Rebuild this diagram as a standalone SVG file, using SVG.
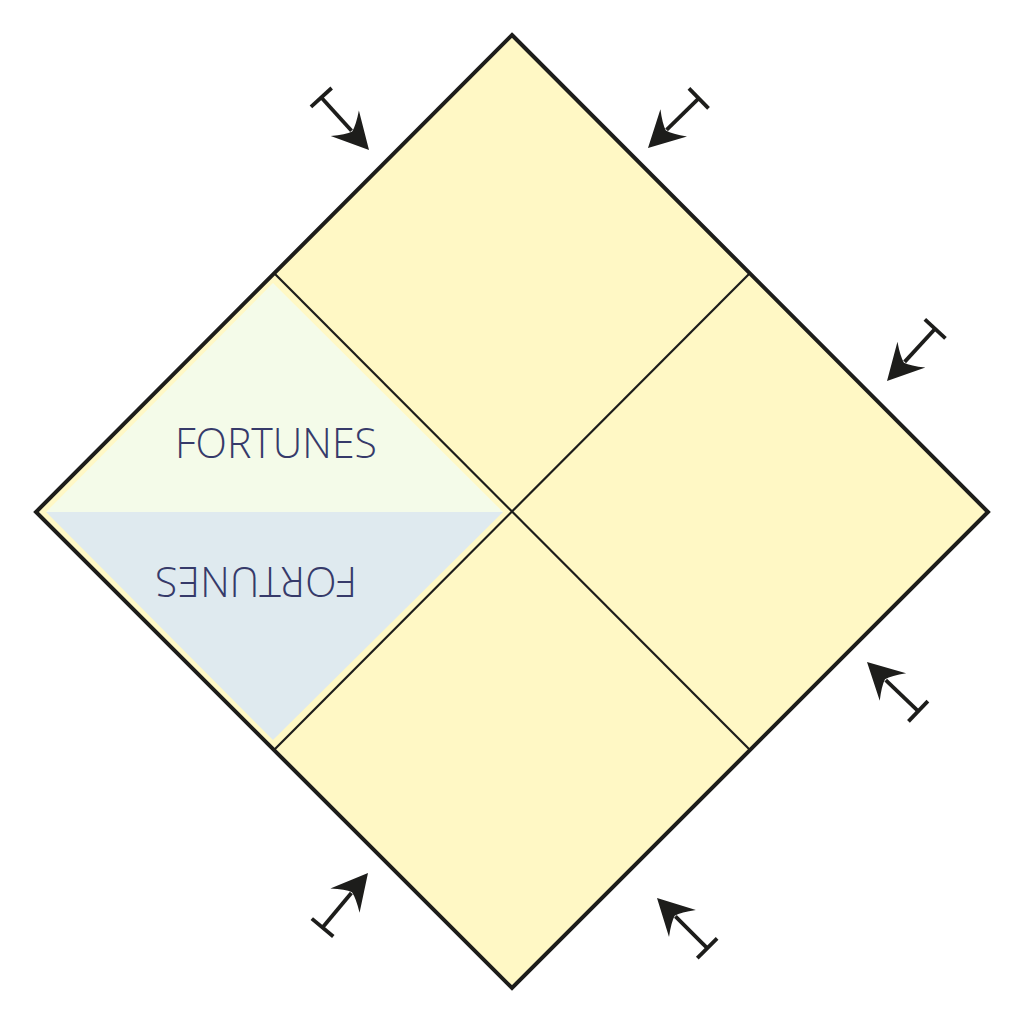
<svg xmlns="http://www.w3.org/2000/svg" xmlns:xlink="http://www.w3.org/1999/xlink" width="1024" height="1024" viewBox="0 0 1024 1024">
<style>
.edge{fill:none;stroke:#1d1d1b;stroke-width:4;stroke-linejoin:miter}
.div{fill:none;stroke:#1d1d1b;stroke-width:2.2}
.lbl{font-family:"Open Sans","Noto Sans","Liberation Sans",sans-serif;font-weight:300;font-size:42px;fill:#363a6a;text-anchor:middle}
.ash{stroke:#1d1d1b;stroke-width:3.8;fill:none}
.ahd{fill:#1d1d1b}
</style>
<defs>
<g id="arr">
<line class="ash" x1="-71" y1="0" x2="-26" y2="0"/>
<line class="ash" x1="-71" y1="-14" x2="-71" y2="14"/>
<path class="ahd" d="M0,0 L-36,-19 Q-27,-7 -25,0 Q-27,7 -36,19 Z"/>
</g>
</defs>
<rect width="1024" height="1024" fill="#ffffff"/>
<g id="board">
<polygon points="512,35 988,512 512,988 36,512" fill="#fff8c5"/>
</g>
<g id="fortunes">
<polygon points="273,283 503,512 46,512" fill="#f4fbe9"/>
<polygon points="46,512 503,512 273,740" fill="#dfeaef"/>
<text class="lbl" x="276" y="458" textLength="202" lengthAdjust="spacingAndGlyphs">FORTUNES</text>
<text class="lbl" x="256" y="597" textLength="202" lengthAdjust="spacingAndGlyphs" transform="rotate(180 256 582)">FORTUNES</text>
</g>
<g id="dividers">
<line class="div" x1="274" y1="273" x2="750" y2="750"/>
<line class="div" x1="750" y1="273" x2="274" y2="750"/>
</g>
<g id="outline">
<polygon class="edge" points="512,35 988,512 512,988 36,512"/>
</g>
<g id="connectors">
<use xlink:href="#arr" href="#arr" transform="translate(369,150) rotate(47.8)"/>
<use xlink:href="#arr" href="#arr" transform="translate(648,148) rotate(135.6)"/>
<use xlink:href="#arr" href="#arr" transform="translate(887,381) rotate(132.7)"/>
<use xlink:href="#arr" href="#arr" transform="translate(867,662) rotate(223.9)"/>
<use xlink:href="#arr" href="#arr" transform="translate(657,898) rotate(225)"/>
<use xlink:href="#arr" href="#arr" transform="translate(368,873) rotate(-50.2)"/>
</g>
</svg>
